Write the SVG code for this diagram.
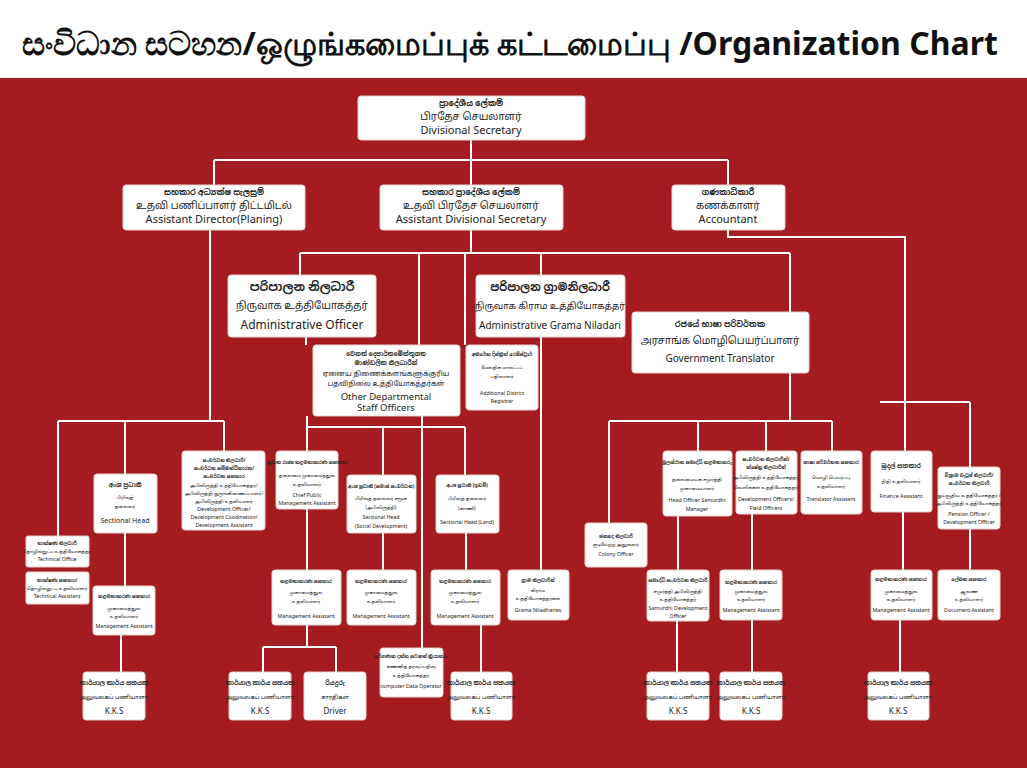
<svg xmlns="http://www.w3.org/2000/svg" width="1027" height="768" viewBox="0 0 1027 768">
<style>
.bx{fill:#fff;stroke:#e8d0d0;stroke-width:1}
.ln{stroke:#fff;stroke-width:2;fill:none}
text{text-anchor:middle;font-family:"Noto Sans","Noto Sans Sinhala","Noto Sans Tamil","DejaVu Sans",sans-serif;fill:#222}
.s1{font-size:8px;font-weight:bold}
.t1{font-size:10px}
.e1{font-size:11px}
.s2{font-size:4.6px;font-weight:bold}
.t2{font-size:4.4px}
.e2{font-size:5.3px}
.s3{font-size:6px;font-weight:bold}
.t3{font-size:5.6px}
.e3{font-size:8px}
</style>
<rect x="0" y="0" width="1027" height="768" fill="#a51c20"/>
<rect x="0" y="0" width="1027" height="78" fill="#fff"/>
<text x="510" y="55" style="font-size:32px;font-weight:bold;fill:#111;font-family:'Noto Sans','Liberation Sans',sans-serif">සංවිධාන සටහන/ஒழுங்கமைப்புக் கட்டமைப்பு /Organization Chart</text>
<g id="connectors" class="ln">
<path d="M471 140V160M214 160H728M214 160V185M471 160V185M728 160V185"/>
<path d="M210 230V421M58 421H224M58 421V536M125 421V474M224 421V451"/>
<path d="M471 230V253M300 253H790M300 253V275M419 253V345M465 253V345M541 253V275M541 337V570M790 253V312"/>
<path d="M306 337V345M307 416V427H465M307 427V451M383 427V475M422 416V648M465 427V475"/>
<path d="M125 533V586M121 635V672M307 509V570M307 625V647M263 647H336M263 647V672M336 647V672M383 533V570M466 533V570M481 625V672"/>
<path d="M728 230V237H905V402M880 402H970M905 402V451M970 402V467"/>
<path d="M790 373V421M609 421H832M609 421V523M698 421V451M766 421V451M832 421V451"/>
<path d="M678 516V570M677 621V672M752 514V570M752 620V672M903 512V570M900 620V672M970 529V570"/>
</g>
<g id="n-ds"><rect class="bx" x="358" y="96" width="227" height="44" rx="3"/><text class="s1" x="471" y="106">ප්‍රාදේශීය ලේකම්</text><text class="t1" x="471" y="120">பிரதேச செயலாளர்</text><text class="e1" x="471" y="134">Divisional Secretary</text></g>
<g id="n-ad"><rect class="bx" x="123" y="185" width="182" height="45" rx="3"/><text class="s1" x="214" y="195">සහකාර අධ්‍යක්ෂ සැලසුම්</text><text class="t1" x="214" y="209">உதவி பணிப்பாளர் திட்டமிடல்</text><text class="e1" x="214" y="223">Assistant Director(Planing)</text></g>
<g id="n-ads"><rect class="bx" x="380" y="185" width="183" height="45" rx="3"/><text class="s1" x="471" y="195">සහකාර ප්‍රාදේශීය ලේකම්</text><text class="t1" x="471" y="209">உதவி பிரதேச செயலாளர்</text><text class="e1" x="471" y="223">Assistant Divisional Secretary</text></g>
<g id="n-acc"><rect class="bx" x="672" y="185" width="113" height="45" rx="3"/><text class="s1" x="728" y="195">ගණකාධිකාරී</text><text class="t1" x="728" y="209">கணக்காளர்</text><text class="e1" x="728" y="223">Accountant</text></g>
<g id="n-ao"><rect class="bx" x="228" y="275" width="148" height="62" rx="3"/><text x="302" y="291" style="font-size:12px;font-weight:bold">පරිපාලන නිලධාරී</text><text x="302" y="309" style="font-size:10px">நிருவாக உத்தியோகத்தர்</text><text x="302" y="329" style="font-size:12px">Administrative Officer</text></g>
<g id="n-agn"><rect class="bx" x="476" y="275" width="149" height="62" rx="3"/><text x="550" y="291" style="font-size:11px;font-weight:bold">පරිපාලන ග්‍රාමනිලධාරී</text><text x="550" y="309" style="font-size:9px">நிருவாக கிராம உத்தியோகத்தர்</text><text x="550" y="329" style="font-size:10px">Administrative Grama Niladari</text></g>
<g id="n-gt"><rect class="bx" x="632" y="312" width="177" height="61" rx="3"/><text x="720" y="327" class="s1">රජයේ භාෂා පරිවර්තක</text><text x="720" y="344" class="t1">அரசாங்க மொழிபெயர்ப்பாளர்</text><text x="720" y="362" style="font-size:10px">Government Translator</text></g>
<g id="n-od"><rect class="bx" x="313" y="345" width="147" height="71" rx="3"/><text class="s3" x="386" y="356">වෙනත් දෙපාර්තමේන්තුගත</text><text class="s3" x="386" y="365">මාණ්ඩලික නිලධාරීන්</text><text x="386" y="376" style="font-size:7px">ஏனைய திணைக்களங்களுக்குரிய</text><text x="386" y="386" style="font-size:7px">பதவிநிலை உத்தியோகத்தர்கள்</text><text x="386" y="400" style="font-size:9.5px">Other Departmental</text><text x="386" y="411" style="font-size:9.5px">Staff Officers</text></g>
<g id="n-adr"><rect class="bx" x="466" y="345" width="72" height="65" rx="3"/><text class="s2" x="502" y="356">අතිරේක දිස්ත්‍රික් රෙජිස්ට්‍රාර්</text><text class="t2" x="502" y="369">மேலதிக மாவட்டப்</text><text class="t2" x="502" y="378">பதிவாளர்</text><text class="e2" x="502" y="395">Additional District</text><text class="e2" x="502" y="403">Registrar</text></g>
<g id="n-to"><rect class="bx" x="26" y="536" width="63" height="31" rx="2"/><text class="s2" x="57" y="545">තාක්ෂණ නිලධාරී</text><text class="t2" x="57" y="553">தொழில்நுட்ப உத்தியோகத்தர்</text><text class="e2" x="57" y="561">Technical Office</text></g>
<g id="n-ta"><rect class="bx" x="26" y="572" width="63" height="32" rx="2"/><text class="s2" x="57" y="582">තාක්ෂණ සහකාර</text><text class="t2" x="57" y="590">தொழில்நுட்ப உதவியாளர்</text><text class="e2" x="57" y="598">Technical Assistant</text></g>
<g id="n-sh"><rect class="bx" x="94" y="474" width="63" height="59" rx="3"/><text class="s3" x="125" y="487">අංශ ප්‍රධානී</text><text class="t2" x="125" y="499">பிரிவுத்</text><text class="t2" x="125" y="508">தலைவர்</text><text x="125" y="523" style="font-size:7px">Sectional Head</text></g>
<g id="n-do"><rect class="bx" x="182" y="451" width="83" height="79" rx="3"/><text class="s2" x="224" y="462">සංවර්ධන නිලධාරී/</text><text class="s2" x="224" y="470">සංවර්ධන සම්බන්ධීකාරක/</text><text class="s2" x="224" y="478">සංවර්ධන සහකාර</text><text class="t2" x="224" y="487">அபிவிருத்தி உத்தியோகத்தர்/</text><text class="t2" x="224" y="495">அபிவிருத்தி ஒருங்கிணைப்பாளர்/</text><text class="t2" x="224" y="503">அபிவிருத்தி உதவியாளர்</text><text class="e2" x="224" y="511">Development Officer/</text><text class="e2" x="224" y="519">Development Coodination/</text><text class="e2" x="224" y="527">Development Assistant</text></g>
<g id="n-cpma"><rect class="bx" x="276" y="451" width="62" height="58" rx="3"/><text class="s2" x="307" y="464">ප්‍රධාන රාජ්‍ය කළමනාකරණ සහකාර</text><text class="t2" x="307" y="477">தலைமை முகாமைத்துவ</text><text class="t2" x="307" y="486">உதவியாளர்</text><text class="e2" x="307" y="497">Chief Public</text><text class="e2" x="307" y="505">Management Assistant</text></g>
<g id="n-shs"><rect class="bx" x="347" y="475" width="69" height="58" rx="3"/><text class="s2" x="381" y="488">අංශ ප්‍රධානී (සමාජ සංවර්ධන)</text><text class="t2" x="381" y="500">பிரிவுத் தலைவர் சமூக</text><text class="t2" x="381" y="509">(அபிவிருத்தி)</text><text class="e2" x="381" y="519">Sectional Head</text><text class="e2" x="381" y="528">(Social Development)</text></g>
<g id="n-shl"><rect class="bx" x="436" y="475" width="63" height="58" rx="3"/><text class="s2" x="467" y="487">අංශ ප්‍රධානී (ඉඩම්)</text><text class="t2" x="467" y="500">பிரிவுத் தலைவர்</text><text class="t2" x="467" y="510">(காணி)</text><text class="e2" x="467" y="524">Sectional Head  (Land)</text></g>
<g id="n-hos"><rect class="bx" x="663" y="451" width="69" height="65" rx="3"/><text class="s2" x="697" y="464">මූලස්ථාන සමෘද්ධි කළමනාකරු</text><text class="t2" x="697" y="481">தலைமையக சமுர்த்தி</text><text class="t2" x="697" y="490">முகாமையாளர்</text><text class="e2" x="697" y="502">Head Officer Samurdhi</text><text class="e2" x="697" y="511">Manager</text></g>
<g id="n-dof"><rect class="bx" x="736" y="451" width="61" height="63" rx="3"/><text class="s2" x="766" y="461">සංවර්ධන නිලධාරීන්/</text><text class="s2" x="766" y="469">ක්ෂේත්‍ර නිලධාරීන්</text><text class="t2" x="766" y="479">அபிவிருத்தி உத்தியோகத்தர்</text><text class="t2" x="766" y="489">வெளிக்கள உத்தியோகத்தர்</text><text class="e2" x="766" y="501">Development Officers/</text><text class="e2" x="766" y="510">Field Officers</text></g>
<g id="n-tra"><rect class="bx" x="801" y="451" width="61" height="63" rx="3"/><text class="s2" x="831" y="464">භාෂා පරිවර්තන සහකාර</text><text class="t2" x="831" y="479">மொழி பெயர்ப்பு</text><text class="t2" x="831" y="488">உதவியாளர்</text><text class="e2" x="831" y="501">Translator Assistant</text></g>
<g id="n-fa"><rect class="bx" x="871" y="451" width="61" height="61" rx="3"/><text class="s3" x="901" y="468">මුදල් සහකාර</text><text class="t2" x="901" y="483">நிதி உதவியாளர்</text><text class="e2" x="901" y="498">Finance Assistant</text></g>
<g id="n-po"><rect class="bx" x="938" y="467" width="62" height="62" rx="3"/><text class="s2" x="969" y="477">විශ්‍රාම වැටුප් නිලධාරී/</text><text class="s2" x="969" y="485">සංවර්ධන නිලධාරී</text><text class="t2" x="969" y="497">ஓய்வூதிய உத்தியோகத்தர் /</text><text class="t2" x="969" y="505">அபிவிருத்தி உத்தியோகத்தர்</text><text class="e2" x="969" y="516">Pension Officer /</text><text class="e2" x="969" y="524">Development Officer</text></g>
<g id="n-co"><rect class="bx" x="585" y="523" width="62" height="44" rx="3"/><text class="s2" x="616" y="538">ජනපද නිලධාරී</text><text class="t2" x="616" y="546">குடியேற்ற அலுவலர்</text><text class="e2" x="616" y="556">Colony Officer</text></g>
<g id="n-ma1"><rect class="bx" x="93" y="586" width="62" height="49" rx="3"/><text class="s2" x="124" y="598">කළමනාකරණ සහකාර</text><text class="t2" x="124" y="610">முகாமைத்துவ</text><text class="t2" x="124" y="618">உதவியாளர்</text><text class="e2" x="124" y="628">Management Assistant</text></g>
<g id="n-ma2"><rect class="bx" x="272" y="570" width="69" height="55" rx="3"/><text class="s2" x="306" y="583">කළමනාකරණ සහකාර</text><text class="t2" x="306" y="594">முகாமைத்துவ</text><text class="t2" x="306" y="603">உதவியாளர்</text><text class="e2" x="306" y="618">Management Assistant</text></g>
<g id="n-ma3"><rect class="bx" x="347" y="570" width="69" height="55" rx="3"/><text class="s2" x="381" y="583">කළමනාකරණ සහකාර</text><text class="t2" x="381" y="594">முகாமைத்துவ</text><text class="t2" x="381" y="603">உதவியாளர்</text><text class="e2" x="381" y="618">Management Assistant</text></g>
<g id="n-ma4"><rect class="bx" x="431" y="570" width="69" height="55" rx="3"/><text class="s2" x="465" y="583">කළමනාකරණ සහකාර</text><text class="t2" x="465" y="594">முகாமைத்துவ</text><text class="t2" x="465" y="603">உதவியாளர்</text><text class="e2" x="465" y="618">Management Assistant</text></g>
<g id="n-gn"><rect class="bx" x="508" y="570" width="61" height="50" rx="3"/><text class="s2" x="538" y="582">ග්‍රාම නිලධාරීන්</text><text class="t2" x="538" y="592">கிராம</text><text class="t2" x="538" y="600">உத்தியோகத்தர்கள்</text><text class="e2" x="538" y="612">Grama Niladharies</text></g>
<g id="n-sdo"><rect class="bx" x="647" y="570" width="62" height="51" rx="3"/><text class="s2" x="678" y="582">සමෘද්ධි සංවර්ධන නිලධාරී</text><text class="t2" x="678" y="593">சமுர்த்தி அபிவிருத்தி</text><text class="t2" x="678" y="601">உத்தியோகத்தர்</text><text class="e2" x="678" y="610">Samurdhi Development</text><text class="e2" x="678" y="618">Officer</text></g>
<g id="n-ma5"><rect class="bx" x="720" y="570" width="62" height="50" rx="3"/><text class="s2" x="751" y="584">කළමනාකරණ සහකාර</text><text class="t2" x="751" y="593">முகாமைத்துவ</text><text class="t2" x="751" y="601">உதவியாளர்</text><text class="e2" x="751" y="612">Management Assistant</text></g>
<g id="n-ma6"><rect class="bx" x="871" y="570" width="61" height="50" rx="3"/><text class="s2" x="901" y="581">කළමනාකරණ සහකාර</text><text class="t2" x="901" y="593">முகாமைத்துவ</text><text class="t2" x="901" y="601">உதவியாளர்</text><text class="e2" x="901" y="612">Management Assistant</text></g>
<g id="n-da"><rect class="bx" x="938" y="570" width="62" height="50" rx="3"/><text class="s2" x="969" y="581">ලේඛන සහකාර</text><text class="t2" x="969" y="593">ஆவண</text><text class="t2" x="969" y="601">உதவியாளர்</text><text class="e2" x="969" y="612">Document Assistant</text></g>
<g id="n-cdo"><rect class="bx" x="380" y="648" width="63" height="49" rx="3"/><text class="s2" x="411" y="658">පරිගණක දත්ත සටහන් ක්‍රියාකරු</text><text class="t2" x="411" y="668">கணனித் தரவுப்பதிவு</text><text class="t2" x="411" y="677">உத்தியோகத்தர்</text><text class="e2" x="411" y="688">computer Data Operator</text></g>
<g id="n-k1"><rect class="bx" x="83" y="672" width="62" height="48" rx="3"/><text class="s3" x="114" y="685">කාර්යාල කාර්ය සහයක</text><text class="t3" x="114" y="699">அலுவலகப் பணியாளர்</text><text class="e3" x="114" y="714">K.K.S</text></g>
<g id="n-k2"><rect class="bx" x="229" y="672" width="62" height="48" rx="3"/><text class="s3" x="260" y="685">කාර්යාල කාර්ය සහයක</text><text class="t3" x="260" y="699">அலுவலகப் பணியாளர்</text><text class="e3" x="260" y="714">K.K.S</text></g>
<g id="n-dr"><rect class="bx" x="304" y="672" width="62" height="48" rx="3"/><text class="s3" x="335" y="685">රියදුරු</text><text class="t3" x="335" y="699">சாரதிகள்</text><text class="e3" x="335" y="714">Driver</text></g>
<g id="n-k3"><rect class="bx" x="451" y="672" width="61" height="48" rx="3"/><text class="s3" x="481" y="685">කාර්යාල කාර්ය සහයක</text><text class="t3" x="481" y="699">அலுவலகப் பணியாளர்</text><text class="e3" x="481" y="714">K.K.S</text></g>
<g id="n-k4"><rect class="bx" x="647" y="672" width="62" height="48" rx="3"/><text class="s3" x="678" y="685">කාර්යාල කාර්ය සහයක</text><text class="t3" x="678" y="699">அலுவலகப் பணியாளர்</text><text class="e3" x="678" y="714">K.K.S</text></g>
<g id="n-k5"><rect class="bx" x="720" y="672" width="62" height="48" rx="3"/><text class="s3" x="751" y="685">කාර්යාල කාර්ය සහයක</text><text class="t3" x="751" y="699">அலுவலகப் பணியாளர்</text><text class="e3" x="751" y="714">K.K.S</text></g>
<g id="n-k6"><rect class="bx" x="868" y="672" width="61" height="48" rx="3"/><text class="s3" x="898" y="685">කාර්යාල කාර්ය සහයක</text><text class="t3" x="898" y="699">அலுவலகப் பணியாளர்</text><text class="e3" x="898" y="714">K.K.S</text></g>
</svg>
